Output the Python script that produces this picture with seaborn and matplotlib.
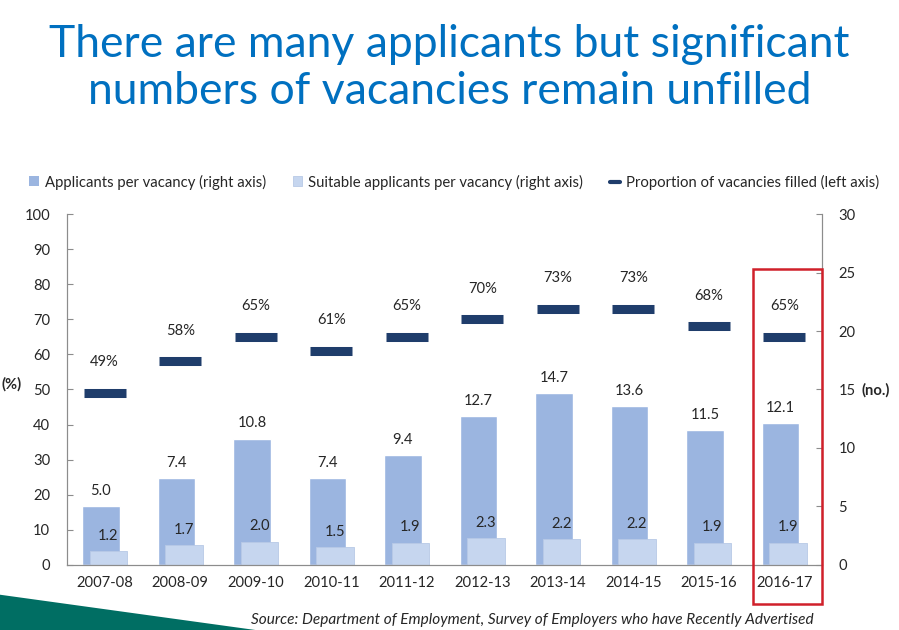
import numpy as np
import pandas as pd
import matplotlib.pyplot as plt
import seaborn as sns
from matplotlib.patches import Patch, Rectangle, Polygon
from matplotlib.lines import Line2D

years = ['2007-08', '2008-09', '2009-10', '2010-11', '2011-12',
         '2012-13', '2013-14', '2014-15', '2015-16', '2016-17']
applicants = [5.0, 7.4, 10.8, 7.4, 9.4, 12.7, 14.7, 13.6, 11.5, 12.1]
suitable = [1.2, 1.7, 2.0, 1.5, 1.9, 2.3, 2.2, 2.2, 1.9, 1.9]
filled = [49, 58, 65, 61, 65, 70, 73, 73, 68, 65]

sns.set_style('white')
plt.rcParams['font.family'] = ['Lato', 'DejaVu Sans']

c_app = '#9bb5e0'
c_suit = '#c6d6ef'
c_dash = '#1f3d6b'
c_txt = '#262626'
c_axis = '#8c8c8c'
fs = 10.6

df = pd.DataFrame({'year': years, 'applicants': applicants, 'suitable': suitable})

fig = plt.figure(figsize=(8.99, 6.3), dpi=100)
ax = fig.add_axes([0.0745, 0.1032, 0.8398, 0.5571])
ax2 = ax.twinx()
# bars on the right axis, drawn behind the left-axis dashes
ax2.set_zorder(ax.get_zorder() - 1)
ax.patch.set_visible(False)

sns.barplot(data=df, x='year', y='applicants', color=c_app, saturation=1,
            width=0.5, ax=ax2)
sns.barplot(data=df, x='year', y='suitable', color=c_suit, saturation=1,
            width=0.5, ax=ax2, edgecolor='#b8c9e6', linewidth=0.6)
n = len(years)
for i, p in enumerate(ax2.patches):
    p.set_x(p.get_x() + (-0.05 if i < n else 0.05))

pos = np.arange(n)
for i in range(n):
    ax2.annotate(f'{applicants[i]:.1f}', (pos[i] - 0.05, applicants[i]),
                 xytext=(0, 11), textcoords='offset points', ha='center',
                 va='center', fontsize=fs, color=c_txt)
    ax2.annotate(f'{suitable[i]:.1f}', (pos[i] + 0.05, suitable[i]),
                 xytext=(0, 11), textcoords='offset points', ha='center',
                 va='center', fontsize=fs, color=c_txt)

ax.plot(pos, filled, ls='none', marker='_', ms=30, mew=6.5, color=c_dash)
for i in range(n):
    ax.annotate(f'{filled[i]}%', (pos[i], filled[i]), xytext=(0, 22),
                textcoords='offset points', ha='center', va='center',
                fontsize=fs, color=c_txt)

ax.set_xlim(-0.5, n - 0.5)
ax.set_ylim(0, 100)
ax2.set_ylim(0, 30)
ax.set_yticks(range(0, 101, 10))
ax2.set_yticks(range(0, 31, 5))
ax2.set_xlabel('')
ax2.set_ylabel('')
ax.set_xticks(pos)
ax.set_xticklabels(years)

for a in (ax, ax2):
    for s in a.spines.values():
        s.set_color(c_axis)
        s.set_linewidth(0.8)
    a.spines['top'].set_visible(False)
    a.tick_params(axis='y', direction='in', length=4, width=0.8,
                  color=c_axis, labelsize=fs, labelcolor=c_txt, pad=12)
    a.tick_params(axis='x', length=0, labelsize=fs, labelcolor=c_txt, pad=8)
ax2.tick_params(axis='x', labelbottom=False)

# red box around the latest year
ax.add_patch(Rectangle((n - 1.414, -11.1), 0.914, 95.4, fill=False,
                       edgecolor='#d0202a', linewidth=1.8, clip_on=False,
                       zorder=5))

fig.text(0.002, 0.390, '(%)', fontsize=fs, fontweight='bold', color=c_txt,
         va='center')
fig.text(0.958, 0.381, '(no.)', fontsize=fs, fontweight='bold', color=c_txt,
         va='center')

handles = [Patch(facecolor=c_app, edgecolor='none'),
           Patch(facecolor=c_suit, edgecolor='#b8c9e6', linewidth=0.6),
           Line2D([], [], color=c_dash, lw=3)]
labels = ['Applicants per vacancy (right axis)',
          'Suitable applicants per vacancy (right axis)',
          'Proportion of vacancies filled (left axis)']
fig.legend(handles, labels, loc='center', bbox_to_anchor=(0.505, 0.711),
           ncol=3, frameon=False, fontsize=10.7, handlelength=0.65,
           handleheight=0.65, handletextpad=0.4, columnspacing=1.8,
           labelcolor=c_txt)

fig.text(0.5, 0.929, 'There are many applicants but significant',
         ha='center', va='center', fontsize=32, color='#0070c0')
fig.text(0.5, 0.854, 'numbers of vacancies remain unfilled',
         ha='center', va='center', fontsize=32, color='#0070c0')

fig.text(0.9055, 0.016,
         'Source: Department of Employment, Survey of Employers who have Recently Advertised',
         ha='right', va='center', fontsize=11.1, style='italic', color=c_txt)

fig.patches.append(Polygon([(0, 0), (0, 0.056), (0.284, 0)], closed=True,
                           transform=fig.transFigure, facecolor='#006e63',
                           edgecolor='none', zorder=0))

fig.savefig('out.png', dpi=100)
